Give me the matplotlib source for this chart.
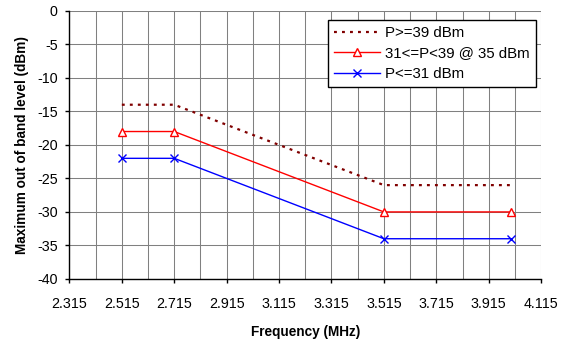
import numpy as np
import matplotlib.pyplot as plt
from matplotlib import ticker

plt.rcParams['font.family'] = ['Liberation Sans', 'DejaVu Sans']
plt.rcParams['axes.unicode_minus'] = False

freq = [2.515, 2.715, 3.515, 4.0]
p_high = [-14, -14, -26, -26]
p_mid = [-18, -18, -30, -30]
p_low = [-22, -22, -34, -34]
x_ticks = [2.315, 2.515, 2.715, 2.915, 3.115, 3.315, 3.515, 3.715, 3.915, 4.115]
y_ticks = [0, -5, -10, -15, -20, -25, -30, -35, -40]


def main():
    fig = plt.figure(figsize=(5.69, 3.41), dpi=100)
    ax = fig.add_axes([0.122, 0.182, 0.829, 0.786])

    ax.plot(freq, p_high, color='#800000', linestyle=(0, (1.3, 2.3)), linewidth=1.6,
            label='P>=39 dBm')
    ax.plot(freq, p_mid, color='#ff0000', linewidth=1.0, marker='^', markersize=5.5,
            markerfacecolor='white', markeredgecolor='#ff0000', markeredgewidth=1.0,
            label='31<=P<39 @ 35 dBm')
    ax.plot(freq, p_low, color='#0000ff', linewidth=1.0, marker='x', markersize=5.5,
            markeredgewidth=1.0, label='P<=31 dBm')

    ax.set_xlim(2.315, 4.115)
    ax.set_ylim(-40, 0)
    ax.set_xticks(x_ticks)
    ax.set_xticklabels([f'{v:.3f}' for v in x_ticks])
    ax.set_yticks(y_ticks)
    ax.xaxis.set_minor_locator(ticker.FixedLocator(np.arange(2.415, 4.1, 0.2)))

    ax.grid(True, which='both', axis='x', color='#808080', linewidth=0.75)
    ax.grid(True, which='major', axis='y', color='#808080', linewidth=0.75)
    ax.set_axisbelow(True)
    ax.tick_params(axis='x', which='minor', length=0)
    ax.tick_params(axis='both', which='major', direction='out', length=3,
                   width=1, color='black', labelsize=10.3)
    ax.tick_params(axis='x', which='major', pad=10)
    ax.tick_params(axis='y', which='major', pad=5.5)

    for s in ['top', 'right']:
        ax.spines[s].set_visible(False)
    for s in ['left', 'bottom']:
        ax.spines[s].set_color('black')
        ax.spines[s].set_linewidth(1.0)

    ax.set_xlabel('Frequency (MHz)', fontsize=9.8, fontweight='bold', labelpad=10)
    ax.set_ylabel('Maximum out of band level (dBm)', fontsize=9.8, fontweight='bold',
                  labelpad=6)

    leg = ax.legend(loc='upper right', bbox_to_anchor=(0.989, 0.966), fontsize=10.8,
                    frameon=True, fancybox=False, framealpha=1, edgecolor='black',
                    handlelength=3.1, handletextpad=0.33, borderpad=0.4,
                    labelspacing=0.43, borderaxespad=0)
    leg.get_frame().set_linewidth(1.0)

    fig.savefig('out.png', dpi=100)


if __name__ == '__main__':
    main()
